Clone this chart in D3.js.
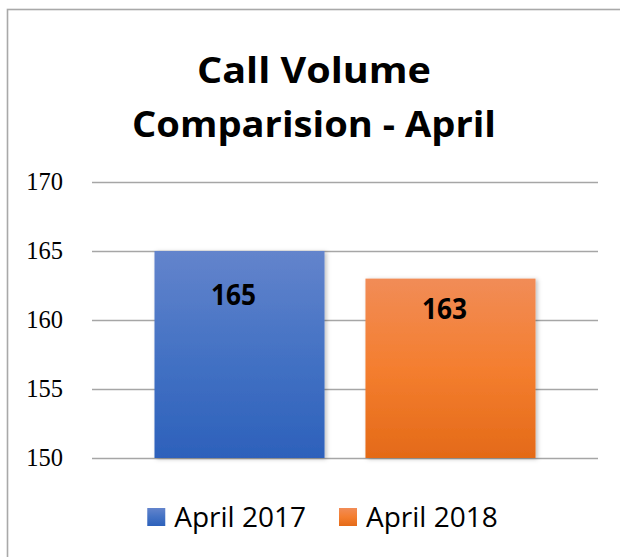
<!DOCTYPE html>
<html lang="en">
<head>
  <meta charset="UTF-8">
  <title>Call Volume Comparision - April</title>
  <script src="https://d3js.org/d3.v7.min.js"></script>
  <style>
    html, body { margin: 0; padding: 0; background: #fff; }
    svg { display: block; }
    .tick text { font-family: "Liberation Serif", serif; font-size: 24.5px; fill: #000; }
    .tick line { stroke: #a6a6a6; stroke-width: 1.3; }
  </style>
</head>
<body>
<svg id="canvas" width="620" height="557"></svg>
<script>
  // chart data
  let titleLines = ["Call Volume", "Comparision - April"];
  let category = ["April"];
  let series = ["April 2017", "April 2018"];
  let values = [165, 163];
  let yTicks = [150, 155, 160, 165, 170];

  let colorStops = [
    ["#6384cc", "#4472c4", "#2d61bb"],
    ["#f18c57", "#f47e2f", "#e46a18"]
  ];

  let svg = d3.select('#canvas');
  let plotLeft = 92, plotRight = 598, plotTop = 182, plotBottom = 458;

  // frame
  svg.append('rect')
    .attr('x', 7.5).attr('y', 9.5)
    .attr('width', 640).attr('height', 580)
    .attr('fill', '#fff')
    .attr('stroke', '#a9a9a9')
    .attr('stroke-width', 1.6);

  let defs = svg.append('defs');
  colorStops.forEach((c, i) => {
    let g = defs.append('linearGradient')
      .attr('id', 'grad' + i)
      .attr('x1', 0).attr('y1', 0).attr('x2', 0).attr('y2', 1);
    g.append('stop').attr('offset', '0%').attr('stop-color', c[0]);
    g.append('stop').attr('offset', '50%').attr('stop-color', c[1]);
    g.append('stop').attr('offset', '100%').attr('stop-color', c[2]);
  });
  defs.append('filter').attr('id', 'shadow')
    .attr('x', '-10%').attr('y', '-10%').attr('width', '130%').attr('height', '130%')
    .append('feDropShadow')
    .attr('dx', 2).attr('dy', 1).attr('stdDeviation', 2)
    .attr('flood-color', '#000').attr('flood-opacity', 0.25);

  // title (narrow bold face, so squeeze the glyphs a bit)
  let titleWidths = [234, 364];
  titleLines.forEach((t, i) => {
    svg.append('text')
      .attr('x', 314).attr('y', 83 + i * 54)
      .attr('text-anchor', 'middle')
      .attr('font-family', '"Open Sans", sans-serif')
      .attr('font-weight', 'bold')
      .attr('font-size', 36)
      .attr('textLength', titleWidths[i])
      .attr('lengthAdjust', 'spacingAndGlyphs')
      .text(t);
  });

  // scales
  let y = d3.scaleLinear().domain([150, 170]).range([plotBottom, plotTop]);
  let x0 = d3.scaleBand().domain(category).range([plotLeft, plotRight]).paddingInner(0).paddingOuter(0.164);
  let x1 = d3.scaleBand().domain(series).range([0, x0.bandwidth()]).paddingInner(0.194).paddingOuter(0);

  // gridlines + labels
  let axis = svg.append('g')
    .attr('transform', `translate(${plotLeft},0)`)
    .call(d3.axisLeft(y).tickValues(yTicks).tickSize(-(plotRight - plotLeft)).tickPadding(29).tickFormat(d3.format('d')));
  axis.select('.domain').remove();

  // bars
  let bars = svg.append('g').selectAll('g')
    .data(series.map((s, i) => ({ s: s, v: values[i], i: i })))
    .join('g');

  bars.append('rect')
    .attr('x', d => x0(category[0]) + x1(d.s))
    .attr('y', d => y(d.v))
    .attr('width', x1.bandwidth())
    .attr('height', d => y(150) - y(d.v))
    .attr('fill', d => `url(#grad${d.i})`)
    .attr('filter', 'url(#shadow)');

  bars.append('text')
    .attr('x', d => x0(category[0]) + x1(d.s) + x1.bandwidth() / 2 - 6)
    .attr('y', d => (y(d.v) + y(150)) / 2 - 60)
    .attr('dy', '0.36em')
    .attr('text-anchor', 'middle')
    .attr('font-family', '"Open Sans", sans-serif')
    .attr('font-weight', 'bold')
    .attr('font-size', 29)
    .attr('textLength', 45)
    .attr('lengthAdjust', 'spacingAndGlyphs')
    .text(d => d.v);

  // legend
  let legend = svg.append('g');
  let items = legend.selectAll('g').data(series).join('g');
  items.append('rect')
    .attr('width', 18).attr('height', 18)
    .attr('y', 508)
    .attr('fill', (d, i) => `url(#grad${i})`);
  items.append('text')
    .attr('y', 527)
    .attr('font-family', '"Open Sans", sans-serif')
    .attr('font-size', 28)
    .attr('fill', '#000')
    .text(d => d);

  let xpos = 0;
  items.each(function () {
    let g = d3.select(this);
    let tw = g.select('text').node().getComputedTextLength();
    g.select('rect').attr('x', xpos);
    g.select('text').attr('x', xpos + 27);
    xpos += 27 + tw + 33;
  });
  let total = xpos - 33;
  legend.attr('transform', `translate(${322.5 - total / 2},0)`);
</script>
</body>
</html>
